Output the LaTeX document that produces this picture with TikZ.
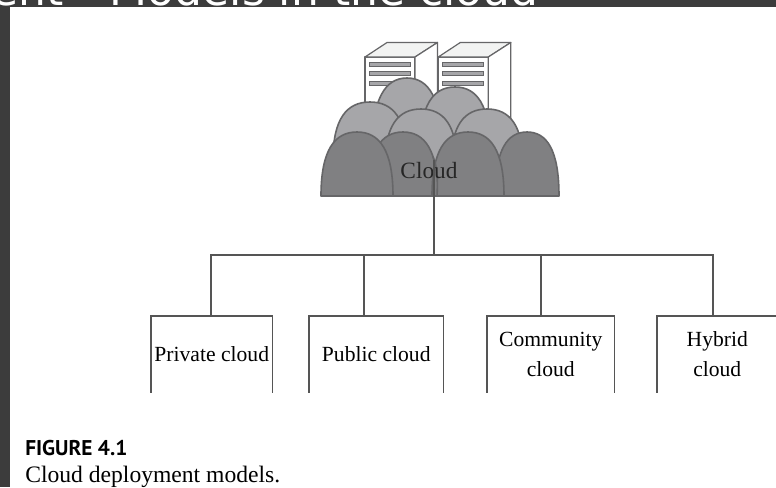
\documentclass[tikz,border=0pt]{standalone}
\usepackage{fontspec}
\setmainfont{Liberation Serif}
\newfontfamily\headfont{DejaVu Sans}
\newfontfamily\figfont{PT Sans}
\definecolor{framegray}{HTML}{3C3C3C}
\definecolor{bumplight}{HTML}{A6A6A9}
\definecolor{bumpdark}{HTML}{808082}
\definecolor{edgegray}{HTML}{666668}
\definecolor{linegray}{HTML}{555555}
\definecolor{servergray}{HTML}{F2F3F2}
\newcommand{\archbump}[5]{\path[draw=edgegray,line width=1.2pt,line join=round,fill=#5] (#1-#3,#4) .. controls (#1-#3,0.72*#2+0.28*#4) and (#1-0.62*#3,#2) .. (#1,#2) .. controls (#1+0.62*#3,#2) and (#1+#3,0.72*#2+0.28*#4) .. (#1+#3,#4) -- cycle;}
\tikzset{
  x=0.75pt,y=-0.75pt,
  modelbox/.style={inner sep=0pt,font=\fontsize{16.2}{22.5}\selectfont,align=center,minimum height=57pt,anchor=north west},
  boxside/.style={draw=linegray,line width=0.9pt},
  wire/.style={draw=linegray,line width=0.9pt},
  serverline/.style={draw=edgegray,line width=0.9pt,line join=round},
  slot/.style={draw=edgegray,line width=0.7pt,fill=bumplight}
}
\begin{document}
\begin{tikzpicture}
\useasboundingbox (0,0) rectangle (776,487);
\clip (0,0) rectangle (776,487);
\fill[white] (0,0) rectangle (776,487);
% frame
\fill[framegray] (0,0) rectangle (776,7);
\fill[framegray] (0,0) rectangle (10,487);
\begin{scope}
\clip (0,0) rectangle (776,7);
\node[anchor=base west,inner sep=0pt,text=white,font=\headfont\fontsize{33}{33}\selectfont] (head) at (-52,5) {ment\hspace{14pt}\ \ Models in the cloud};
\end{scope}
% servers
\foreach \sx/\bot in {0/120,73.3/120}{
  \begin{scope}[xshift=\sx*0.75pt]
  \path[serverline,fill=white] (365,57) rectangle (415,125);
  \path[serverline,fill=servergray] (365,57) -- (387,42.5) -- (437.5,42.5) -- (415,57) -- cycle;
  \path[serverline,fill=white] (415,57) -- (437.5,42.5) -- (437.5,\bot) -- (415,\bot+14) -- cycle;
  \path[slot] (369,62) rectangle (410,66);
  \path[slot] (369,71.5) rectangle (410,75.5);
  \path[slot] (369,81) rectangle (410,85);
  \end{scope}
}
% cloud, upper bumps
\archbump{407}{78}{35}{150}{bumplight}
\archbump{455}{87}{35}{150}{bumplight}
\archbump{370}{102}{37}{160}{bumplight}
\archbump{487}{109}{36}{165}{bumplight}
\archbump{421}{109}{36}{165}{bumplight}
% cloud, lower bumps
\archbump{403}{132}{35}{196}{bumpdark}
\archbump{527}{132}{32}{196}{bumpdark}
\archbump{468}{132}{36}{196}{bumpdark}
\archbump{357}{132}{36}{196}{bumpdark}
\draw[edgegray,line width=1.2pt] (433,157) .. controls (437,165) and (438,180) .. (437,196);
\node[inner sep=0pt,font=\fontsize{17.5}{20}\selectfont,text=black!85] (cloud) at (429,171) {Cloud};
\coordinate (tap) at (434,160);
\coordinate (bus) at (434,255);
% boxes
\node[modelbox,minimum width=90.75pt] (private) at (151,316) {Private cloud};
\node[modelbox,minimum width=100.5pt] (public) at (309,316) {Public cloud};
\node[modelbox,minimum width=95.25pt] (community) at (487,316) {Community\\cloud};
\node[modelbox,minimum width=90pt] (hybrid) at (657,316) {Hybrid\\cloud};
\foreach \n in {private,public,community,hybrid}
  \draw[boxside] (\n.south west) -- (\n.north west) -- (\n.north east) -- (\n.south east);
% connectors
\draw[wire] (tap) -- (bus);
\draw[wire] (private.north -| 211,0) |- (bus) -| (hybrid.north -| 713,0);
\draw[wire] (364,255) -- (public.north -| 364,0);
\draw[wire] (541,255) -- (community.north -| 541,0);
% caption
\node[anchor=base west,inner sep=0pt,font=\figfont\bfseries\fontsize{16}{16}\selectfont] (figlabel) at (25,455) {FIGURE 4.1};
\node[anchor=base west,inner sep=0pt,font=\fontsize{17.7}{17.7}\selectfont] (caption) at (25,482) {Cloud deployment models.};
\end{tikzpicture}
\end{document}
